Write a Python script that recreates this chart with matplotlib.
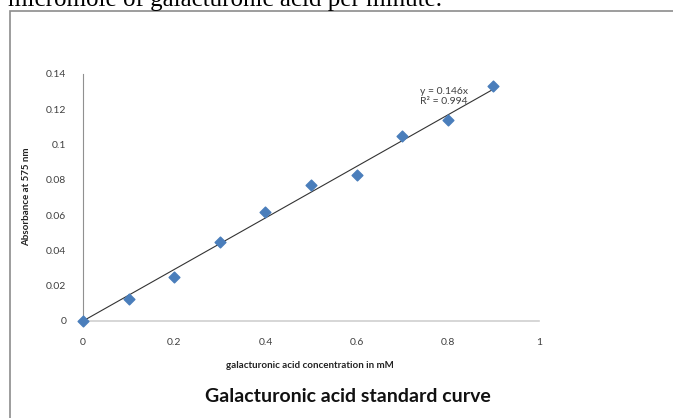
import matplotlib.pyplot as plt
from matplotlib.patches import Rectangle

# galacturonic acid standard curve data
conc = [0, 0.1, 0.2, 0.3, 0.4, 0.5, 0.6, 0.7, 0.8, 0.9]
absorb = [0, 0.0125, 0.025, 0.045, 0.062, 0.077, 0.083, 0.105, 0.114, 0.133]
slope = 0.146
r2 = 0.994
xticks = [0, 0.2, 0.4, 0.6, 0.8, 1]
yticks = [0, 0.02, 0.04, 0.06, 0.08, 0.1, 0.12, 0.14]

W, H = 673, 418
fig = plt.figure(figsize=(W / 100, H / 100), dpi=100)
font = ['Lato', 'DejaVu Sans']

# cropped line of document text above the chart
fig.text(8 / W, 1 - 6 / H, 'micromole of galacturonic acid per minute.',
         family='Liberation Serif', fontsize=18, va='baseline', ha='left')
# chart frame (bottom and right run off the page)
fig.patches.append(Rectangle((10 / W, -0.1), 2, 1.1 - 10.5 / H, transform=fig.transFigure,
                             fill=False, edgecolor='#8c8c8c', linewidth=1.2))

ax = fig.add_axes([83 / W, 1 - 321 / H, (539 - 83) / W, (321 - 74) / H])
fit_x = [conc[0], conc[-1]]
ax.plot(fit_x, [slope * v for v in fit_x], color='#333333', linewidth=0.8, zorder=2)
ax.scatter(conc, absorb, marker='D', s=30, color='#4a7ebb', zorder=3, clip_on=False)

ax.set_xlim(0, 1)
ax.set_ylim(0, 0.14)
ax.set_xticks(xticks)
ax.set_xticklabels(['0', '0.2', '0.4', '0.6', '0.8', '1'], family=font, fontsize=7.5, color='#404040')
ax.set_yticks(yticks)
ax.set_yticklabels(['0', '0.02', '0.04', '0.06', '0.08', '0.1', '0.12', '0.14'],
                   family=font, fontsize=7.5, color='#404040')
ax.tick_params(length=0, pad=12)
ax.tick_params(axis='y', pad=12)
for s in ['top', 'right']:
    ax.spines[s].set_visible(False)
ax.spines['left'].set_color('#909090')
ax.spines['left'].set_linewidth(0.8)
ax.spines['bottom'].set_color('#d0d0d0')
ax.spines['bottom'].set_linewidth(1.2)

ax.text(0.74, 0.1325, f'y = {slope}x\nR² = {r2}', family=font, fontsize=7.5, color='#404040',
        va='top', ha='left', linespacing=1.15)

fig.text(310 / W, 1 - 366 / H, 'galacturonic acid concentration in mM', family=font,
         fontsize=7, fontweight='bold', ha='center', va='center', color='#222222')
fig.text(27 / W, 1 - 197 / H, 'Absorbance at 575 nm', family=font, fontsize=7,
         fontweight='bold', rotation=90, ha='center', va='center', color='#222222')
fig.text(348 / W, 1 - 397 / H, 'Galacturonic acid standard curve', family=font,
         fontsize=14, fontweight='bold', ha='center', va='center', color='#111111')

fig.savefig('out.png', dpi=100)
